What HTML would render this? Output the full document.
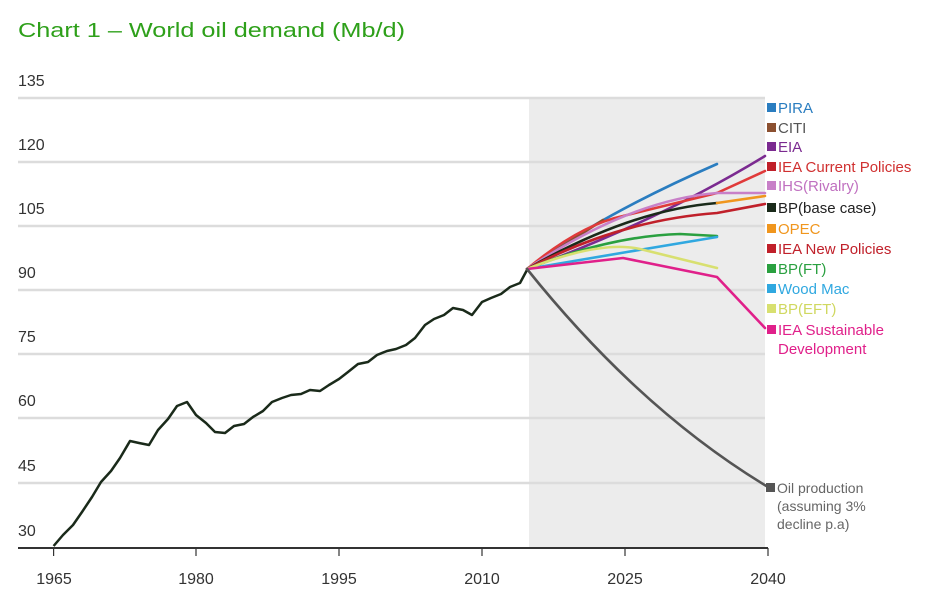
<!DOCTYPE html>
<html><head><meta charset="utf-8"><style>
html,body{margin:0;padding:0;background:#fff;}
svg{display:block;font-family:"Liberation Sans",sans-serif;}
</style></head><body>
<svg width="940" height="595" viewBox="0 0 940 595">
<rect width="940" height="595" fill="#fff"/>
<text x="18" y="37" font-size="20" fill="#2ea01a" textLength="387" lengthAdjust="spacingAndGlyphs">Chart 1 – World oil demand (Mb/d)</text>
<rect x="529" y="98" width="236" height="450" fill="#ececec"/>
<g stroke="#dcdcdc" stroke-width="2.5">
<line x1="18" x2="765" y1="98" y2="98"/>
<line x1="18" x2="765" y1="162" y2="162"/>
<line x1="18" x2="765" y1="226" y2="226"/>
<line x1="18" x2="765" y1="290" y2="290"/>
<line x1="18" x2="765" y1="354" y2="354"/>
<line x1="18" x2="765" y1="418" y2="418"/>
<line x1="18" x2="765" y1="483" y2="483"/>
</g>
<g font-size="16" fill="#333">
<text x="18" y="86">135</text><text x="18" y="150">120</text><text x="18" y="214">105</text>
<text x="18" y="278">90</text><text x="18" y="342">75</text><text x="18" y="406">60</text>
<text x="18" y="471">45</text><text x="18" y="536">30</text>
</g>
<line x1="18" x2="768" y1="548" y2="548" stroke="#333" stroke-width="2"/>
<g stroke="#333" stroke-width="1.2">
<line x1="53.6" x2="53.6" y1="548" y2="556"/><line x1="196" x2="196" y1="548" y2="556"/>
<line x1="339" x2="339" y1="548" y2="556"/><line x1="482" x2="482" y1="548" y2="556"/>
<line x1="625" x2="625" y1="548" y2="556"/><line x1="768" x2="768" y1="548" y2="556"/>
</g>
<g font-size="16" fill="#333" text-anchor="middle">
<text x="54" y="584">1965</text><text x="196" y="584">1980</text><text x="339" y="584">1995</text>
<text x="482" y="584">2010</text><text x="625" y="584">2025</text><text x="768" y="584">2040</text>
</g>
<polyline fill="none" stroke="#1a2a1a" stroke-width="2.5" stroke-linejoin="round" points="53.6,546 63,535 73,525 82,512 92,497 101,482 111,471 120,458 130,441 139,443 149,445 158,430 168,419 177,406 187,402 196,415 206,423 215,432 225,433 234,426 244,424 253,417 263,411 272,402 282,398 291,395 301,394 310,390 320,391 329,385 339,379 348,372 358,364 368,362 377,355 387,351 396,349 406,345 415,338 425,325 434,319 444,315 453,308 463,310 472,315 482,302 491,298 501,294 510,287 520,283 527,270"/>
<g fill="none" stroke-width="2.6" stroke-linecap="round" stroke-linejoin="round">
<path d="M527,269 Q600,215 717,164" stroke="#2a7dc0"/>
<path d="M527,269 L603,220" stroke="#8b5030"/>
<path d="M527,269 Q660,220 765,156" stroke="#7b2a90"/>
<path d="M527,269 Q580,225 623,216 L717,193 L765,171" stroke="#e03a3a"/>
<path d="M527,269 Q630,200 717,193 L765,193" stroke="#c880c8"/>
<path d="M527,269 Q630,210 717,203" stroke="#1a2a1a"/>
<path d="M717,203 L765,196" stroke="#f0961e"/>
<path d="M527,269 Q620,220 717,213 L765,204" stroke="#c0202a"/>
<path d="M527,269 Q610,236 680,234 L717,236" stroke="#2aa040"/>
<path d="M527,269 L627,252 L717,237" stroke="#30a8e0"/>
<path d="M527,269 Q600,240 640,249 L717,268" stroke="#d8e070"/>
<path d="M527,269 L623,258 L717,277 L765,328" stroke="#e0208a"/>
<path d="M527,269 Q640,410 768,487" stroke="#555"/>
</g>
<g font-size="15">
<rect x="767" y="103" width="9" height="9" fill="#2a7dc0"/><text x="778" y="113" fill="#2a7dc0">PIRA</text>
<rect x="767" y="123" width="9" height="9" fill="#8b5030"/><text x="778" y="133" fill="#555">CITI</text>
<rect x="767" y="142" width="9" height="9" fill="#7b2a90"/><text x="778" y="152" fill="#7b2a90">EIA</text>
<rect x="767" y="162" width="9" height="9" fill="#c0202a"/><text x="778" y="172" fill="#d03030">IEA Current Policies</text>
<rect x="767" y="181" width="9" height="9" fill="#c880c8"/><text x="778" y="191" fill="#c070c0">IHS(Rivalry)</text>
<rect x="767" y="203" width="9" height="9" fill="#1a2a1a"/><text x="778" y="213" fill="#222">BP(base case)</text>
<rect x="767" y="224" width="9" height="9" fill="#f0961e"/><text x="778" y="234" fill="#f0961e">OPEC</text>
<rect x="767" y="244" width="9" height="9" fill="#c0202a"/><text x="778" y="254" fill="#c0202a">IEA New Policies</text>
<rect x="767" y="264" width="9" height="9" fill="#2aa040"/><text x="778" y="274" fill="#2aa040">BP(FT)</text>
<rect x="767" y="284" width="9" height="9" fill="#30a8e0"/><text x="778" y="294" fill="#30a8e0">Wood Mac</text>
<rect x="767" y="304" width="9" height="9" fill="#d8e070"/><text x="778" y="314" fill="#d0d860">BP(EFT)</text>
<rect x="767" y="325" width="9" height="9" fill="#e0208a"/><text x="778" y="335" fill="#e0208a">IEA Sustainable</text>
<text x="778" y="354" fill="#e0208a">Development</text>
</g>
<g font-size="14" fill="#666">
<rect x="766" y="483" width="9" height="9" fill="#555"/>
<text x="777" y="493">Oil production</text>
<text x="777" y="511">(assuming 3%</text>
<text x="777" y="529">decline p.a)</text>
</g>
</svg>
</body></html>
